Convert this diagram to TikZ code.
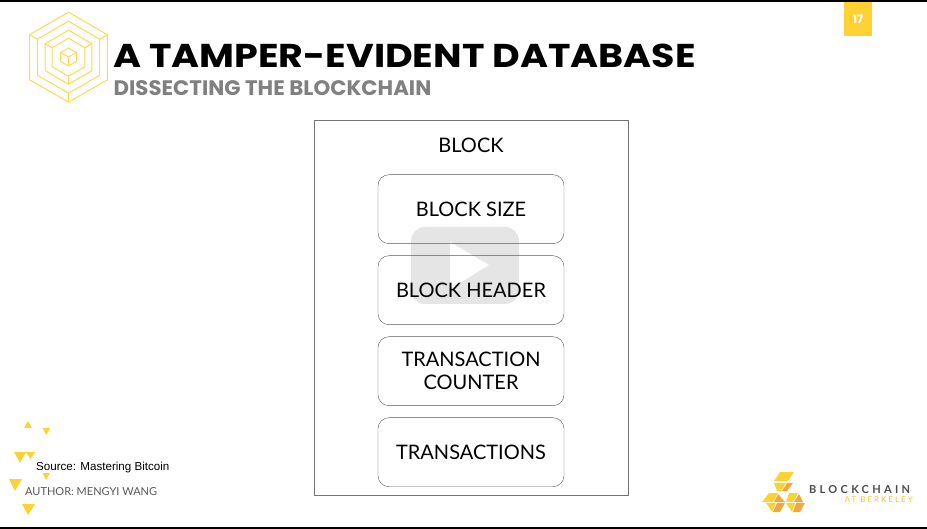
\documentclass[tikz,border=0pt]{standalone}
\usepackage{fontspec}
\usepackage{xcolor}
\setmainfont{Lato}
\newfontfamily\titlefont[FakeStretch=1.152]{Poppins}
\newfontfamily\subfont[FakeStretch=1.015]{Poppins}
\newfontfamily\pagefont{Poppins}
\newfontfamily\srcfont{Liberation Sans}
\newfontfamily\logofont[LetterSpace=30]{Lato}
\newfontfamily\logosubfont[LetterSpace=25]{Lato}
\definecolor{gold}{HTML}{FFD233}
\definecolor{logodark}{HTML}{F2A93B}
\usetikzlibrary{positioning,calc}

\begin{document}
\begin{tikzpicture}[
  x=1pt, y=-1pt,
  inner/.style={draw=black!65, rounded corners=11pt, minimum width=186pt, minimum height=69pt, align=center, inner sep=0pt, font=\fontsize{20}{23}\selectfont},
  tri/.style={fill=gold, draw=none},
  hexline/.style={draw=gold!85!white, line width=1pt, line join=round}
]
\useasboundingbox (0,0) rectangle (927,529);
\fill[white] (0,0) rectangle (927,529);
\fill[black] (0,0) rectangle (927,2);
\fill[black] (0,527) rectangle (927,529);
% play button
\fill[black!10, rounded corners=14pt] (411,227) rectangle (519,304);
\fill[white] (450,242) -- (489,265) -- (450,289) -- cycle;
% block
\node[draw=black!55, minimum width=313.5pt, minimum height=375pt, inner sep=0pt] (block) at (471,308) {};
\node[font=\fontsize{20}{24}\selectfont] (blocklabel) at (471,145) {BLOCK};
\node[inner] (size) at (471,209.2) {BLOCK SIZE};
\node[inner, below=11.6pt of size] (header) {BLOCK HEADER};
\node[inner, below=11.6pt of header] (counter) {TRANSACTION\\COUNTER};
\node[inner, below=11.6pt of counter] (txs) {TRANSACTIONS};
% title
\node[anchor=base west, inner sep=0pt, font=\titlefont\bfseries\fontsize{33}{36}\selectfont] (title) at (113,68) {A TAMPER-EVIDENT DATABASE};
\node[anchor=base west, inner sep=0pt, text=black!50, font=\subfont\bfseries\fontsize{21}{24}\selectfont] (subtitle) at (113.5,96) {DISSECTING THE BLOCKCHAIN};
% page number
\fill[gold] (844,2) rectangle (872,36);
\node[text=white, font=\pagefont\bfseries\fontsize{11.5}{13}\selectfont] (page) at (858,19) {17};
% hexagons
\foreach \r in {45,36,27,19} {
  \draw[hexline] (68.5,57.2-\r) -- ++(0.866*\r,0.5*\r) -- ++(0,\r) -- ++(-0.866*\r,0.5*\r) -- ++(-0.866*\r,-0.5*\r) -- ++(0,-\r) -- cycle;
}
\draw[hexline] (68.5,48) -- ++(7.8,4.5) -- ++(0,9) -- ++(-7.8,4.5) -- ++(-7.8,-4.5) -- ++(0,-9) -- cycle;
\draw[hexline] (60.7,52.5) -- (68.5,57) -- (76.3,52.5) (68.5,57) -- (68.5,66);
\draw[hexline] (29.5,34.7) -- (37.3,39.2) (107.5,34.7) -- (99.7,39.2) (68.5,102.2) -- (68.5,93.2);
\draw[hexline] (45.1,43.7) -- (52,47.7) (91.9,43.7) -- (85,47.7) (68.5,84.2) -- (68.5,76.2);
% triangles
\fill[tri] (28,421) -- (32,428) -- (24,428) -- cycle;
\fill[tri] (42.5,428) -- (50,428) -- (46.5,435) -- cycle;
\fill[tri] (14,452) -- (26,452) -- (20,463) -- cycle;
\fill[tri] (26,452) -- (35,452) -- (30.5,459) -- cycle;
\fill[tri] (42.5,473) -- (50,473) -- (46,480) -- cycle;
\fill[tri] (9,479) -- (22,479) -- (15,491) -- cycle;
\fill[tri] (22,504) -- (35,504) -- (28,515) -- cycle;
\node[anchor=base west, inner sep=0pt, font=\srcfont\fontsize{11.6}{13}\selectfont] (source) at (36,471) {Source: Mastering Bitcoin};
\node[anchor=base west, inner sep=0pt, text=black!65, font=\fontsize{11}{13}\selectfont] (author) at (25,495) {AUTHOR: MENGYI WANG};
% logo
\fill[gold] (780,472) -- (794,472) -- (788,481) -- (774,481) -- cycle;
\fill[gold] (774,483) -- (786,483) -- (781,491) -- (777,491) -- cycle;
\fill[logodark] (787,483) -- (793,483) -- (787,491) -- (782,491) -- cycle;
\fill[gold] (769,493) -- (778,493) -- (773,502) -- (762,502) -- cycle;
\fill[logodark] (778,494) -- (785,502) -- (774,502) -- cycle;
\fill[gold] (766,503) -- (776,503) -- (772,512) -- cycle;
\fill[logodark] (777,503) -- (785,503) -- (780,512) -- (773,512) -- cycle;
\fill[gold] (789,493) -- (798,493) -- (793,502) -- (786,502) -- cycle;
\fill[logodark] (799,494) -- (803,502) -- (794,502) -- cycle;
\fill[gold] (786,503) -- (795,503) -- (792,512) -- cycle;
\fill[logodark] (796,503) -- (805,503) -- (800,512) -- (793,512) -- cycle;
\node[anchor=base west, inner sep=0pt, text=black!70, font=\logofont\bfseries\fontsize{11}{13}\selectfont] (logoname) at (809,493) {BLOCKCHAIN};
\node[anchor=base east, inner sep=0pt, text=gold!80!orange, font=\logosubfont\fontsize{8}{9}\selectfont] (logosub) at (913,502) {AT BERKELEY};
\end{tikzpicture}
\end{document}
